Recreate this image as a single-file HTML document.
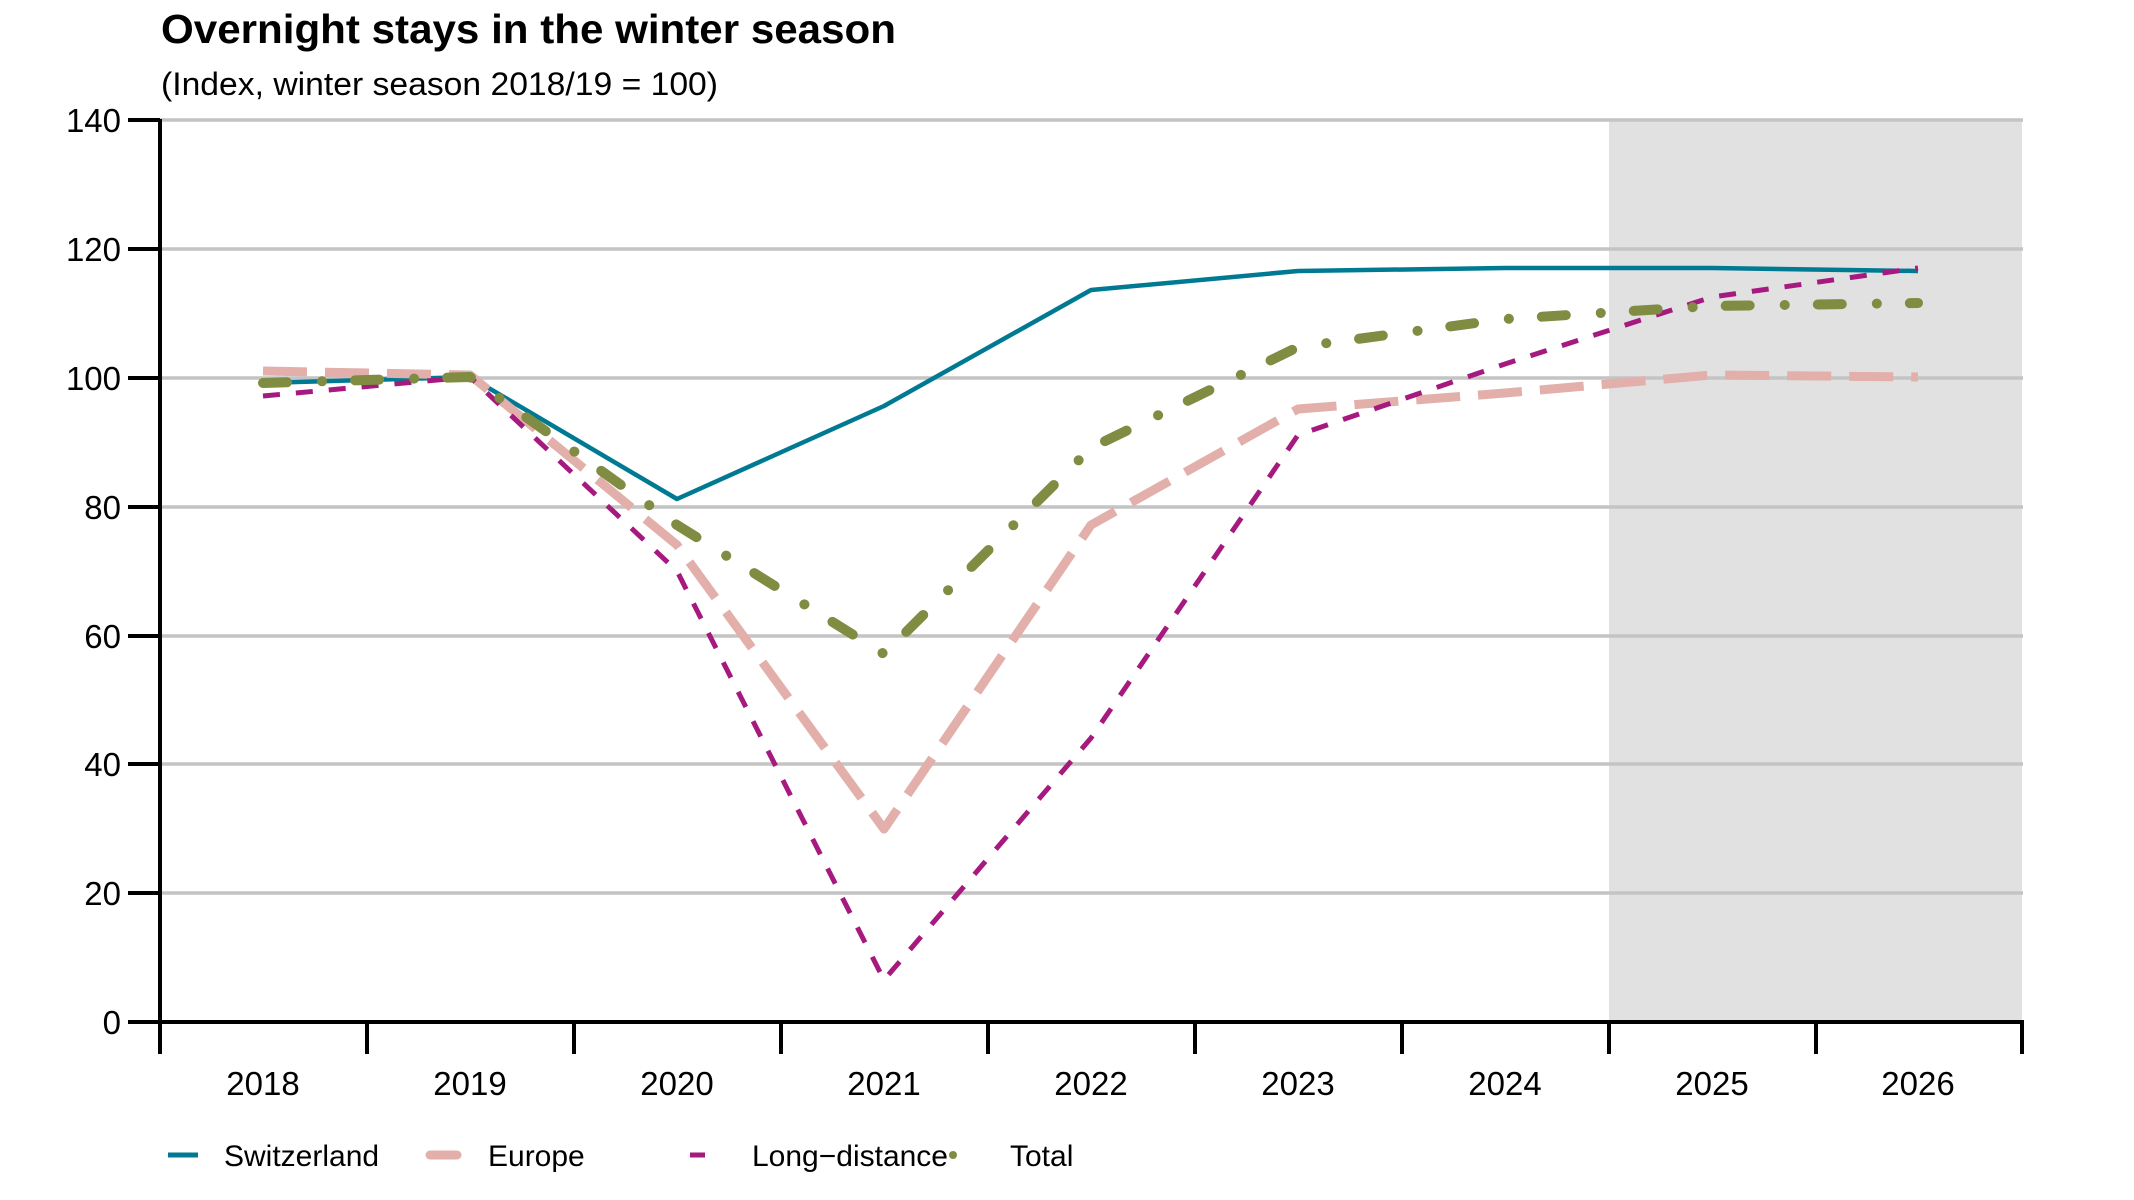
<!DOCTYPE html>
<html><head><meta charset="utf-8"><style>
html,body{margin:0;padding:0;background:#fff;}
svg{display:block;font-family:"Liberation Sans",Arial,sans-serif;}
</style></head><body>
<svg width="2134" height="1200" viewBox="0 0 2134 1200" xmlns="http://www.w3.org/2000/svg">
<rect x="1609" y="120" width="413" height="902" fill="#e1e1e1"/>
<g stroke="#c4c4c4" stroke-width="3.5">
<line x1="160" y1="120" x2="2023" y2="120"/>
<line x1="160" y1="249" x2="2023" y2="249"/>
<line x1="160" y1="378" x2="2023" y2="378"/>
<line x1="160" y1="507" x2="2023" y2="507"/>
<line x1="160" y1="636" x2="2023" y2="636"/>
<line x1="160" y1="764" x2="2023" y2="764"/>
<line x1="160" y1="893" x2="2023" y2="893"/>
</g>
<text x="161" y="43" font-size="41" font-weight="bold" textLength="735" lengthAdjust="spacingAndGlyphs">Overnight stays in the winter season</text>
<text x="161" y="95" font-size="32" textLength="557" lengthAdjust="spacingAndGlyphs">(Index, winter season 2018/19 = 100)</text>
<g font-size="33" text-anchor="end">
<text x="121" y="132">140</text>
<text x="121" y="261">120</text>
<text x="121" y="390">100</text>
<text x="121" y="519">80</text>
<text x="121" y="648">60</text>
<text x="121" y="776">40</text>
<text x="121" y="905">20</text>
<text x="121" y="1034">0</text>
</g>
<g font-size="33" text-anchor="middle">
<text x="263" y="1095">2018</text><text x="470" y="1095">2019</text><text x="677" y="1095">2020</text>
<text x="884" y="1095">2021</text><text x="1091" y="1095">2022</text><text x="1298" y="1095">2023</text>
<text x="1505" y="1095">2024</text><text x="1712" y="1095">2025</text><text x="1918" y="1095">2026</text>
</g>
<g fill="none" stroke-linejoin="round">
<polyline stroke="#007a93" stroke-width="4.5" points="263,383 470,377 677,499 884,406 1091,290 1298,271 1505,268 1712,268 1918,271"/>
<polyline stroke="#e2afaa" stroke-width="9" stroke-dasharray="44 18" points="263,371 470,375 677,545 884,829 1091,525 1298,409 1505,393 1712,375 1918,377"/>
<polyline stroke="#a6197e" stroke-width="5" stroke-dasharray="17 16" points="263,396 470,377 677,571 884,980 1091,738 1298,435 1505,364 1712,297 1918,268"/>
<polyline stroke="#7f8c42" stroke-width="10" stroke-linecap="round" stroke-dasharray="24 35 0.1 33" points="263,383 470,377 677,525 884,654 1091,448 1298,347 1505,319 1712,306 1918,303"/>
</g>
<g stroke="#000" stroke-width="4">
<line x1="160" y1="119" x2="160" y2="1054"/>
<line x1="158" y1="1022" x2="2024" y2="1022"/>
<line x1="128" y1="120" x2="160" y2="120"/><line x1="128" y1="249" x2="160" y2="249"/>
<line x1="128" y1="378" x2="160" y2="378"/><line x1="128" y1="507" x2="160" y2="507"/>
<line x1="128" y1="636" x2="160" y2="636"/><line x1="128" y1="764" x2="160" y2="764"/>
<line x1="128" y1="893" x2="160" y2="893"/><line x1="128" y1="1022" x2="160" y2="1022"/>
<line x1="367" y1="1022" x2="367" y2="1054"/><line x1="574" y1="1022" x2="574" y2="1054"/>
<line x1="781" y1="1022" x2="781" y2="1054"/><line x1="988" y1="1022" x2="988" y2="1054"/>
<line x1="1195" y1="1022" x2="1195" y2="1054"/><line x1="1402" y1="1022" x2="1402" y2="1054"/>
<line x1="1609" y1="1022" x2="1609" y2="1054"/><line x1="1816" y1="1022" x2="1816" y2="1054"/>
<line x1="2022" y1="1022" x2="2022" y2="1054"/>
</g>
<line x1="168" y1="1155" x2="198" y2="1155" stroke="#007a93" stroke-width="5"/>
<line x1="430" y1="1155" x2="457" y2="1155" stroke="#e2afaa" stroke-width="9" stroke-linecap="round"/>
<line x1="690" y1="1155" x2="705" y2="1155" stroke="#a6197e" stroke-width="5"/>
<circle cx="953" cy="1155" r="4" fill="#7f8c42"/>
<g font-size="30">
<text x="224" y="1166">Switzerland</text>
<text x="488" y="1166">Europe</text>
<text x="752" y="1166">Long−distance</text>
<text x="1010" y="1166">Total</text>
</g>
</svg>
</body></html>
